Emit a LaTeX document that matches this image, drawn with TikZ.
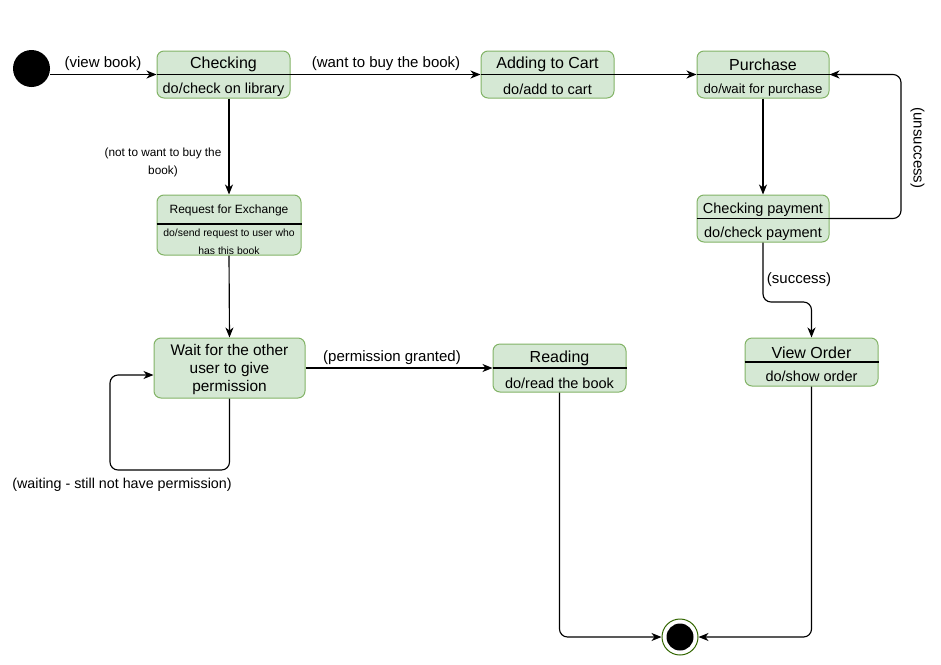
\documentclass[tikz,border=0pt]{standalone}
\usepackage{fontspec}
\setmainfont{Liberation Sans}
\usetikzlibrary{arrows.meta}
\definecolor{stfill}{HTML}{D5E8D4}
\definecolor{stline}{HTML}{82B366}
\definecolor{endring}{HTML}{336600}
\newcommand\fsName{\fontsize{16}{19}\selectfont}
\newcommand\fsDo{\fontsize{14.5}{17}\selectfont}
\newcommand\fsLbl{\fontsize{15}{18}\selectfont}
\begin{document}
\begin{tikzpicture}[x=1pt,y=-1pt,
  state/.style={draw=stline, fill=stfill, rounded corners=7pt, line width=1pt, inner sep=0pt},
  sep/.style={line width=1.1pt},
  txt/.style={inner sep=0pt, align=center, yshift=-1.5pt},
  flow/.style={line width=1.15pt, rounded corners=8pt, -{Stealth[length=10pt,width=8pt,inset=3pt]}},
  lbl/.style={inner sep=0pt, align=center, font=\fsLbl, yshift=-1.5pt}]
\useasboundingbox (0,0) rectangle (941,664);

% ---- start and end points
\node[circle, fill=black, minimum size=37pt, inner sep=0pt] (init) at (31.5,68.5) {};
\node[circle, draw=endring, fill=white, line width=1pt, minimum size=36pt, inner sep=0pt] (fin) at (680,637) {};
\node[circle, fill=black, minimum size=27pt, inner sep=0pt] (finIn) at (fin.center) {};

% ---- states
\node[state, minimum width=133pt, minimum height=47pt] (chk) at (223.5,74.5) {};
\node[state, minimum width=133pt, minimum height=47pt] (cart) at (547.5,74.5) {};
\node[state, minimum width=132pt, minimum height=47pt] (pur) at (763,74.5) {};
\node[state, minimum width=132pt, minimum height=47pt] (pay) at (763,218.5) {};
\node[state, minimum width=144pt, minimum height=60pt] (req) at (229,225) {};
\node[state, minimum width=151pt, minimum height=60pt] (wait) at (229.5,368) {};
\node[state, minimum width=133pt, minimum height=48pt] (read) at (559.5,368) {};
\node[state, minimum width=133pt, minimum height=48pt] (view) at (811.5,362) {};

% ---- compartment dividers
\draw[sep] (chk.west) -- (chk.east);
\draw[sep] (cart.west) -- (cart.east);
\draw[sep] (pur.west) -- (pur.east);
\draw[sep] (pay.west) -- (pay.east);
\draw[sep] ([yshift=1pt]req.west) -- ([yshift=1pt]req.east);
\draw[sep] (read.west) -- (read.east);
\draw[sep] (view.west) -- (view.east);

% ---- state texts
\node[txt, font=\fsName] (chkN) at (223.5,63) {Checking};
\node[txt, font=\fsDo] (chkD) at (223.5,88) {do/check on library};
\node[txt, font=\fsName] (cartN) at (547.5,63) {Adding to Cart};
\node[txt, font=\fsDo] (cartD) at (547.5,88) {do/add to cart};
\node[txt, font=\fsName] (purN) at (763,63) {Purchase};
\node[txt, font=\fontsize{13.2}{16}\selectfont] (purD) at (763,88.5) {do/wait for purchase};
\node[txt, font=\fsDo] (payN) at (763,208) {Checking payment};
\node[txt, font=\fsDo] (payD) at (763,232) {do/check payment};
\node[txt, font=\fontsize{12}{14}\selectfont] (reqN) at (229,209) {Request for Exchange};
\node[txt, font=\fontsize{10.4}{18}\selectfont] (reqD) at (229,240) {do/send request to user who\\has this book};
\node[txt, font=\fontsize{15.4}{18}\selectfont] (waitN) at (229.5,368) {Wait for the other\\user to give\\permission};
\node[txt, font=\fsName] (readN) at (559.5,357) {Reading};
\node[txt, font=\fsDo] (readD) at (559.5,382) {do/read the book};
\node[txt, font=\fsName] (viewN) at (811.5,351) {View Order};
\node[txt, font=\fsDo] (viewD) at (811.5,375) {do/show order};

% ---- helper points for routed connectors
\coordinate (loopBL) at (110,470);
\coordinate (retTR) at (901,74.5);
\coordinate (succBend) at (811.5,302);

% ---- transitions
\draw[flow] (init.east |- chk.west) -- (chk.west);
\draw[flow] (chk.east) -- (cart.west);
\draw[flow] (cart.east) -- (pur.west);
\draw[flow] (req.north |- chk.south) -- (req.north);
\draw[flow] (req.south) -- (wait.north);
\draw[flow] (wait.east) -- (read.west);
\draw[flow] (wait.south) |- (loopBL) |- ([yshift=-7pt]wait.west);
\draw[flow] (pur.south) -- (pay.north);
\draw[flow] (pay.east) -| (retTR) -- (pur.east);
\draw[flow] (pay.south) |- (succBend) -- (view.north);
\draw[flow] (read.south) |- (fin.west);
\draw[flow] (view.south) |- (fin.east);

% ---- transition labels
\node[lbl] (lView) at (103,62) {(view book)};
\node[lbl] (lBuy) at (386,62) {(want to buy the book)};
\node[txt, font=\fontsize{11.8}{18}\selectfont] (lNoBuy) at (163,161) {(not to want to buy the\\book)};
\node[lbl] (lGrant) at (392,356) {(permission granted)};
\node[lbl, font=\fontsize{14.3}{17}\selectfont] (lWaiting) at (122,483) {(waiting - still not have permission)};
\node[lbl, rotate=-90, yshift=1.5pt, xshift=-1.5pt] (lUnsucc) at (916,148) {(unsuccess)};
\node[lbl] (lSucc) at (799,278) {(success)};
\end{tikzpicture}
\end{document}
